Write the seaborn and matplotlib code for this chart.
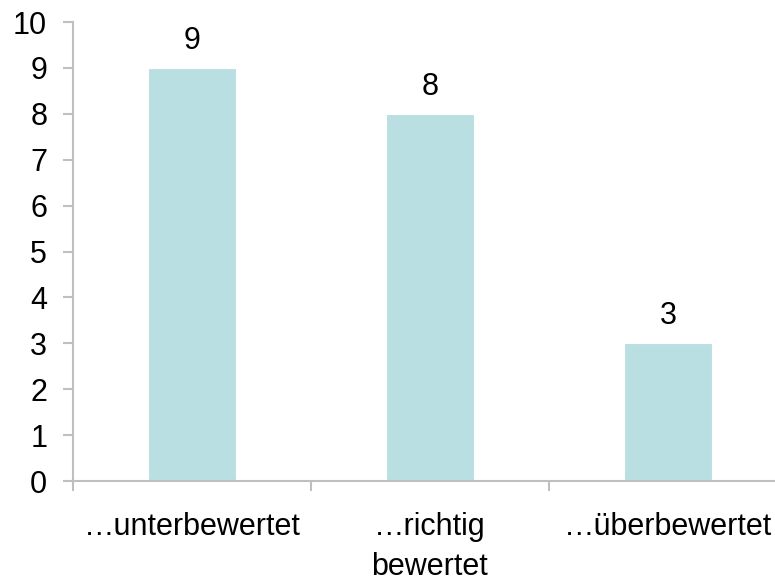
import matplotlib
matplotlib.use('Agg')
import matplotlib.pyplot as plt
import seaborn as sns
import pandas as pd

# Daten
kategorien = ['…unterbewertet', '…richtig\nbewertet', '…überbewertet']
anzahl = [9, 8, 3]

sns.set_theme(style='white')
plt.rcParams['font.family'] = ['Liberation Sans', 'DejaVu Sans']
plt.rcParams['text.color'] = 'black'
plt.rcParams['xtick.color'] = 'black'
plt.rcParams['ytick.color'] = 'black'

df = pd.DataFrame({'Kategorie': kategorien, 'Anzahl': anzahl})

fig = plt.figure(figsize=(7.75, 5.81), dpi=100)
ax = fig.add_axes([0.094, 0.172, 0.906, 0.790])

sns.barplot(data=df, x='Kategorie', y='Anzahl', color='#BADFE2',
            width=0.37, saturation=1, edgecolor='white', linewidth=0.8, ax=ax)

# Werte über den Balken
for i, v in enumerate(anzahl):
    ax.text(i, v + 0.26, str(v), ha='center', va='bottom', fontsize=22, color='black')

ax.set_ylim(0, 10)
ax.set_xlim(-0.5, 2.45)
ax.set_yticks(range(0, 11))
ax.set_xticks([-0.5, 0.5, 1.5], minor=False)
ax.set_xticks([0, 1, 2], minor=True)
ax.set_xticklabels([], minor=False)
ax.set_xticklabels(kategorien, minor=True, linespacing=1.4)
ax.set_xlabel('')
ax.set_ylabel('')

for s in ['top', 'right']:
    ax.spines[s].set_visible(False)
for s in ['left', 'bottom']:
    ax.spines[s].set_color('#BFBFBF')
    ax.spines[s].set_linewidth(1.5)

ax.tick_params(axis='y', which='major', length=7, width=1.5, color='#BFBFBF',
               labelsize=22, labelcolor='black', pad=11.5, left=True)
ax.tick_params(axis='x', which='major', length=7.2, width=1.5, color='#BFBFBF', bottom=True)
ax.tick_params(axis='x', which='minor', length=0, labelsize=22, labelcolor='black', pad=22.5)

fig.savefig('out.png', dpi=100, facecolor='white')
